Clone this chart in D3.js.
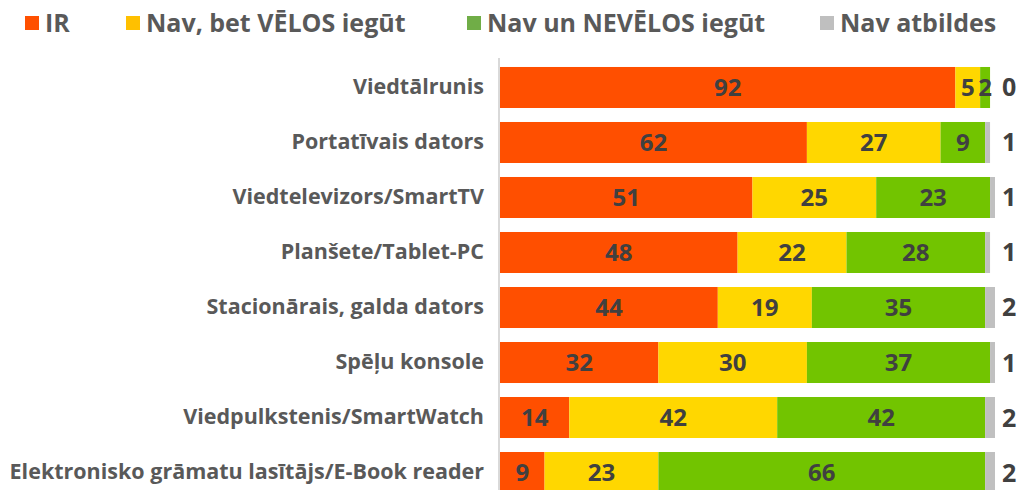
<!DOCTYPE html>
<html>
<head>
<meta charset="utf-8">
<script src="https://cdn.jsdelivr.net/npm/d3@7"></script>
<style>
  body { margin: 0; background: #fff; }
  svg { font-family: "Open Sans", sans-serif; }
</style>
</head>
<body>
<div class="chart"></div>
<script>
// data
const categories = [
    'Viedtālrunis',
    'Portatīvais dators',
    'Viedtelevizors/SmartTV',
    'Planšete/Tablet-PC',
    'Stacionārais, galda dators',
    'Spēļu konsole',
    'Viedpulkstenis/SmartWatch',
    'Elektronisko grāmatu lasītājs/E-Book reader'
];
const seriesNames = ['IR', 'Nav, bet VĒLOS iegūt', 'Nav un NEVĒLOS iegūt', 'Nav atbildes'];
const irValues = [92, 62, 51, 48, 44, 32, 14, 9];
const velosValues = [5, 27, 25, 22, 19, 30, 42, 23];
const nevelosValues = [2, 9, 23, 28, 35, 37, 42, 66];
const navAtbValues = [0, 1, 1, 1, 2, 1, 2, 2];

const barColors = ['#ff4f00', '#ffd700', '#72c400', '#c0c0c0'];
const legendColors = ['#ff5000', '#ffc000', '#70ad47', '#bfbfbf'];

const rows = categories.map((c, i) => ({
    name: c,
    values: [irValues[i], velosValues[i], nevelosValues[i], navAtbValues[i]]
}));

const width = 1022;
const height = 490;

const svg = d3.select('.chart')
    .append('svg')
    .attr('width', width)
    .attr('height', height);

// scales
const xScale = d3.scaleLinear().domain([0, 100]).range([500, 995]);
const yScale = d3.scaleBand()
    .domain(categories)
    .range([60, 500])
    .paddingInner(0.2545)
    .paddingOuter(0.127);

// legend
const legendX = [25, 126, 467, 820];
const legend = svg.append('g').attr('class', 'legend');
seriesNames.forEach((s, i) => {
    const g = legend.append('g').attr('transform', `translate(${legendX[i]},0)`);
    g.append('rect')
        .attr('x', 0).attr('y', 16)
        .attr('width', 14).attr('height', 14)
        .style('fill', legendColors[i]);
    g.append('text')
        .attr('x', 20).attr('y', 32)
        .style('font-size', '25px')
        .style('font-weight', 700)
        .style('fill', '#595959')
        .text(s);
});

// axis line
svg.append('line')
    .attr('x1', 499).attr('x2', 499)
    .attr('y1', 58).attr('y2', height)
    .style('stroke', '#d9d9d9')
    .style('stroke-width', 2);

// category labels
const yAxis = d3.axisLeft(yScale).tickSize(0).tickPadding(16);
const yAxisDraw = svg.append('g')
    .attr('transform', 'translate(500,0)')
    .call(yAxis);
yAxisDraw.select('.domain').remove();
yAxisDraw.selectAll('text')
    .style('font-family', '"Open Sans", sans-serif')
    .style('font-size', '21.5px')
    .style('font-weight', 700)
    .style('fill', '#595959');

// bars
const rowG = svg.append('g')
    .selectAll('g')
    .data(rows)
    .enter()
    .append('g')
    .attr('transform', d => `translate(0,${yScale(d.name)})`);

rowG.each(function(d) {
    const g = d3.select(this);
    let acc = 0;
    d.values.forEach((v, i) => {
        const x0 = xScale(acc);
        const x1 = xScale(acc + v);
        acc += v;
        if (v > 0) {
            g.append('rect')
                .attr('x', x0)
                .attr('y', 0)
                .attr('width', x1 - x0)
                .attr('height', yScale.bandwidth())
                .style('fill', barColors[i]);
        }
        if (i < 3) {
            g.append('text')
                .attr('x', (x0 + x1) / 2)
                .attr('y', yScale.bandwidth() / 2)
                .attr('dy', '0.36em')
                .attr('text-anchor', 'middle')
                .style('font-size', '24px')
                .style('font-weight', 700)
                .style('fill', '#404040')
                .text(v);
        } else {
            g.append('text')
                .attr('x', 1002)
                .attr('y', yScale.bandwidth() / 2)
                .attr('dy', '0.36em')
                .style('font-size', '25px')
                .style('font-weight', 700)
                .style('fill', '#404040')
                .text(v);
        }
    });
});
</script>
</body>
</html>
